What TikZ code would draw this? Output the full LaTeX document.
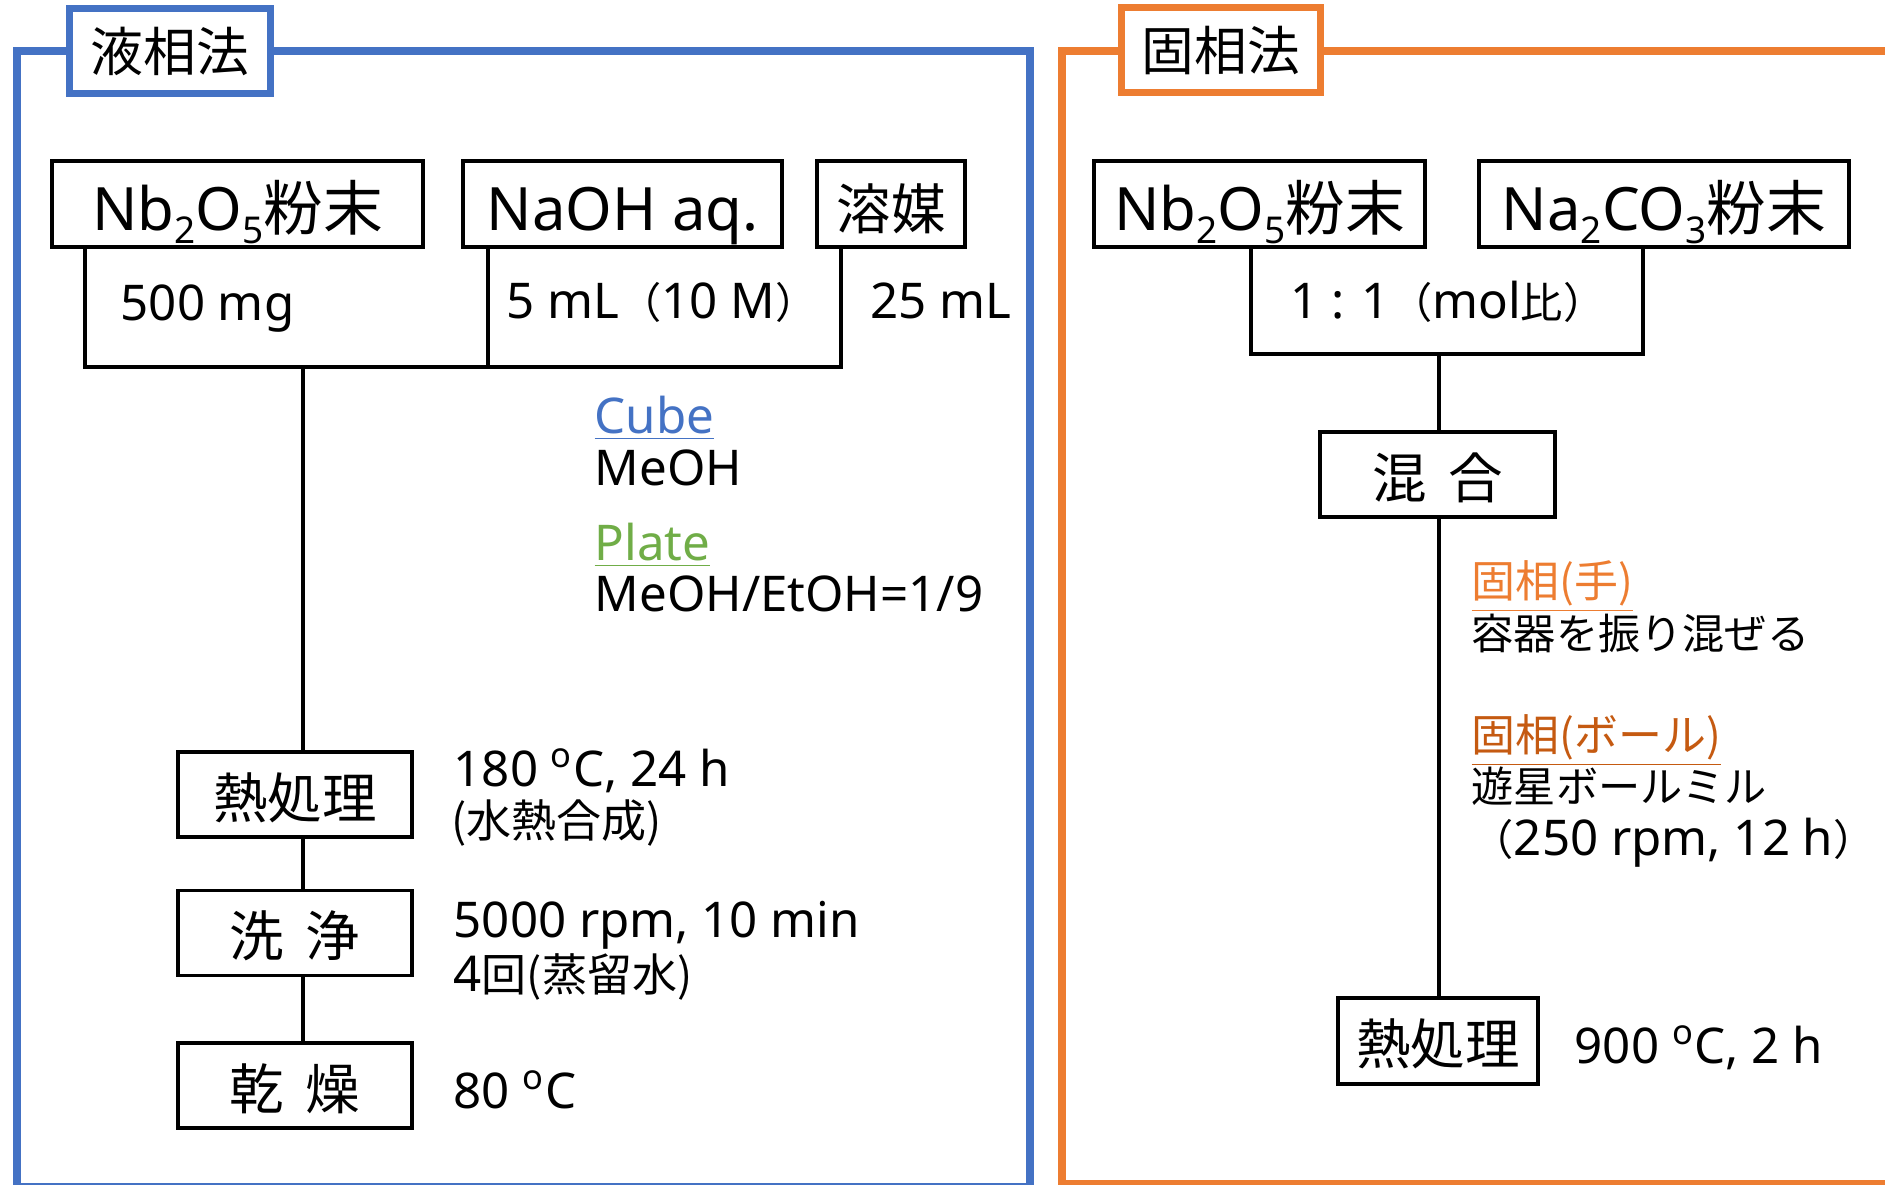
\documentclass[tikz,border=0pt]{standalone}
\usepackage{fontspec}
\setmainfont{Noto Sans}
\newfontfamily\jp{Noto Sans CJK JP}
\usepackage{tikz}
\newcommand{\chemsub}[1]{\raisebox{-0.22em}{\fontsize{10.5}{10.5}\selectfont #1}}
\newcommand{\jn}[1]{{\jp\fontsize{12}{14}\selectfont #1}}
\newcommand{\jl}[1]{{\jp\fontsize{12.8}{15}\selectfont #1}}
\newcommand{\jh}[1]{{\jp\fontsize{12.5}{15}\selectfont #1}}
\definecolor{liqline}{RGB}{ 68,114,196}
\definecolor{solline}{RGB}{237,125, 49}
\definecolor{platecol}{RGB}{112,173, 71}
\definecolor{ballcol}{RGB}{197, 90, 17}

\begin{document}
\begin{tikzpicture}[x=0.01cm,y=-0.01cm,
   box/.style={draw=black,line width=1pt,minimum height=0.86cm,inner sep=0pt,
               text height=0.52cm,text depth=0pt,font=\fontsize{17}{20}\selectfont},
   jbox/.style={box,minimum width=2.34cm,minimum height=0.85cm,text height=0.47cm,
                font=\jp\fontsize{15.5}{18}\selectfont},
   tab/.style={fill=white,line width=2pt,minimum width=2cm,minimum height=0.84cm,
               inner sep=0pt,font=\jp\fontsize{15}{18}\selectfont},
   note/.style={anchor=base west,inner sep=0pt,font=\fontsize{14}{17}\selectfont},
   link/.style={line width=1.4pt}]
\useasboundingbox (0,0) rectangle (1885,1184);
\clip (0,0) rectangle (1885,1184);

% frames and tabs
\draw[liqline,line width=2pt] (17,51) rectangle (1030,1186);
\draw[solline,line width=2pt] (1062,51) rectangle (1920,1183);
\node[tab,draw=liqline] (liqtab) at (170,51) {液相法};
\node[tab,draw=solline,minimum width=1.98cm] (soltab) at (1221,50) {固相法};

% liquid phase: sources
\node[box,minimum width=3.71cm] (nbL) at (237.5,204) {Nb\chemsub{2}O\chemsub{5}{\jp 粉末}};
\node[box,minimum width=3.19cm] (naoh) at (622.5,204) {NaOH aq.};
\node[jbox,minimum width=1.48cm,minimum height=0.86cm,text height=0.5cm] (solv) at (891,204) {溶媒};

\coordinate (lbL) at (85,367);
\coordinate (lbM) at (488,367);
\coordinate (lbR) at (841,367);
\coordinate (lbD) at (303,367);
\draw[link] (nbL.south -| lbL) -- (lbL) -- (lbR) -- (solv.south -| lbR);
\draw[link] (naoh.south -| lbM) -- (lbM);

\node[note] (massNb) at (120,320) {500 mg};
\node[note] (volNa) at (506,318) {5 mL\jn{（}10 M\jn{）}};
\node[note] (volSolv) at (870,318) {25 mL};

\node[note,text=liqline] (cubeHd) at (594,433) {\underline{Cube}};
\node[note] (cubeSolv) at (594,485) {MeOH};
\node[note,text=platecol] (plateHd) at (594,560) {\underline{Plate}};
\node[note] (plateSolv) at (594,611) {MeOH/EtOH=1/9};

% liquid phase: steps
\node[jbox] (heat) at (295,794.5) {熱処理};
\node[jbox] (wash) at (295,933) {洗\hspace{0.4em}浄};
\node[jbox] (dry) at (295,1085.5) {乾\hspace{0.4em}燥};
\draw[link] (lbD) -- (heat.north -| lbD);
\draw[link] (heat.south -| lbD) -- (wash.north -| lbD);
\draw[link] (wash.south -| lbD) -- (dry.north -| lbD);

\node[note] (hydroT) at (453,786) {180 \textsuperscript{o}C, 24 h};
\node[note] (hydroN) at (451,837) {\jl{(水熱合成)}};
\node[note] (washC) at (453,937) {5000 rpm, 10 min};
\node[note] (washN) at (453,991) {4\jl{回(蒸留水)}};
\node[note] (dryT) at (453,1108) {80 \textsuperscript{o}C};

% solid phase
\node[box,minimum width=3.31cm] (nbR) at (1259.5,204) {Nb\chemsub{2}O\chemsub{5}{\jp 粉末}};
\node[box,minimum width=3.70cm] (naco) at (1664,204) {Na\chemsub{2}CO\chemsub{3}{\jp 粉末}};
\coordinate (rbL) at (1251,354);
\coordinate (rbR) at (1643,354);
\coordinate (rbM) at (1439,354);
\draw[link] (nbR.south -| rbL) -- (rbL) -- (rbR) -- (naco.south -| rbR);
\node[note,anchor=base] (ratio) at (1448,318) {1 : 1\jn{（}mol\jn{比）}};

\node[jbox,minimum width=2.35cm] (mix) at (1437.5,474.5) {混\hspace{0.4em}合};
\node[jbox,minimum width=2cm,minimum height=0.86cm] (heatR) at (1438,1041) {熱処理};
\draw[link] (rbM) -- (mix.north -| rbM);
\draw[link] (mix.south -| rbM) -- (heatR.north -| rbM);

\node[note,text=solline] (handHd) at (1471,597) {\underline{\jh{固相(手)}}};
\node[note] (handN) at (1471,649) {\jn{容器を振り混ぜる}};
\node[note,text=ballcol] (ballHd) at (1471,751) {\underline{\jh{固相(ボール)}}};
\node[note] (ballN) at (1471,802) {\jn{遊星ボールミル}};
\node[note] (ballC) at (1471,855) {\jn{（}250 rpm, 12 h\jn{）}};
\node[note] (heatRT) at (1574,1063) {900 \textsuperscript{o}C, 2 h};
\end{tikzpicture}
\end{document}
